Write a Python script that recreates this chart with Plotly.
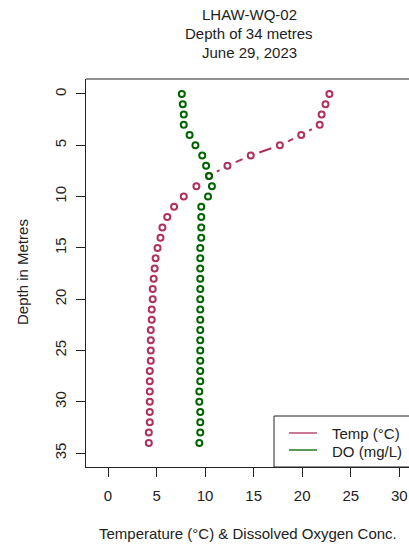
import plotly.graph_objects as go

# Water-quality profile at station LHAW-WQ-02
depth_m = list(range(0, 35))
temp_c = [22.8, 22.4, 22.0, 21.8, 19.9, 17.7, 14.7, 12.3, 10.4, 9.1,
          7.8, 6.8, 6.1, 5.6, 5.4, 5.1, 4.9, 4.8, 4.7, 4.6,
          4.6, 4.5, 4.5, 4.4, 4.4, 4.4, 4.4, 4.3, 4.3, 4.3,
          4.3, 4.3, 4.3, 4.2, 4.2]
do_mgl = [7.6, 7.7, 7.8, 7.8, 8.4, 9.0, 9.7, 10.1, 10.4, 10.7,
          10.3, 9.6, 9.6, 9.6, 9.6, 9.5, 9.5, 9.5, 9.5, 9.5,
          9.5, 9.5, 9.5, 9.5, 9.5, 9.5, 9.5, 9.5, 9.5, 9.4,
          9.4, 9.5, 9.5, 9.5, 9.4]
x_ticks = [0, 5, 10, 15, 20, 25, 30]
y_ticks = [0, 5, 10, 15, 20, 25, 30, 35]
title_lines = ["LHAW-WQ-02", "Depth of 34 metres", "June 29, 2023"]

TEMP_COLOR = "#B03060"
DO_COLOR = "#006400"
INK = "#222222"
FONT = "Liberation Sans, Arial, sans-serif"

W, H = 409, 547
L, R, T, B = 86, 0, 79, 80
pw, ph = W - L - R, H - T - B
X_RANGE = [-2.27, 31.0]
Y_RANGE = [36.35, -1.46]
# pixels per data unit on each axis
SX = pw / (X_RANGE[1] - X_RANGE[0])
SY = ph / abs(Y_RANGE[0] - Y_RANGE[1])
GAP_PX = 9  # points-and-lines style: leave a gap around every point


def px_x(px):
    return (px - L) / pw


def px_y(py):
    return (H - B - py) / ph


def gapped_segments(xs, ys, gap=GAP_PX):
    """Connect consecutive points, trimming each segment back from both points."""
    out_x, out_y = [], []
    for (x0, y0), (x1, y1) in zip(zip(xs, ys), zip(xs[1:], ys[1:])):
        dx, dy = (x1 - x0) * SX, (y1 - y0) * SY
        dist = (dx * dx + dy * dy) ** 0.5
        if dist <= 2 * gap:
            continue
        f = gap / dist
        out_x += [x0 + (x1 - x0) * f, x1 - (x1 - x0) * f, None]
        out_y += [y0 + (y1 - y0) * f, y1 - (y1 - y0) * f, None]
    return out_x, out_y


fig = go.Figure()
for vals, col, name in [(temp_c, TEMP_COLOR, "Temp (°C)"), (do_mgl, DO_COLOR, "DO (mg/L)")]:
    sx, sy = gapped_segments(vals, depth_m)
    fig.add_trace(go.Scatter(
        x=sx, y=sy, mode="lines", showlegend=False, hoverinfo="skip",
        line=dict(color=col, width=2, dash="16px,8px"),
    ))
    fig.add_trace(go.Scatter(
        x=vals, y=depth_m, mode="markers", name=name, showlegend=False,
        marker=dict(symbol="circle-open", size=6, color=col, line=dict(width=2, color=col)),
    ))

axis_common = dict(
    showgrid=False, zeroline=False, showline=True, linecolor=INK, linewidth=1,
    ticks="outside", ticklen=9, tickcolor=INK, tickwidth=1,
    tickfont=dict(family=FONT, size=15, color=INK),
)
fig.update_xaxes(range=X_RANGE, tickmode="array", tickvals=x_ticks,
                 ticklabelstandoff=6, **axis_common)
fig.update_yaxes(range=Y_RANGE, tickmode="array", tickvals=y_ticks,
                 tickangle=-90, ticklabelstandoff=4, **axis_common)

shapes = [
    # top border of the plotting box
    dict(type="line", xref="paper", yref="paper", x0=0, x1=1.05, y0=1, y1=1,
         line=dict(color=INK, width=1)),
    # legend frame in the lower-right corner
    dict(type="rect", xref="paper", yref="paper", x0=px_x(274), x1=1.05,
         y0=0, y1=px_y(416), fillcolor="white", line=dict(color=INK, width=1)),
    dict(type="line", xref="paper", yref="paper", x0=px_x(289), x1=px_x(317),
         y0=px_y(433), y1=px_y(433), line=dict(color=TEMP_COLOR, width=1.3)),
    dict(type="line", xref="paper", yref="paper", x0=px_x(289), x1=px_x(317),
         y0=px_y(450), y1=px_y(450), line=dict(color=DO_COLOR, width=1.3)),
]

ann_font = dict(family=FONT, size=15, color=INK)
annotations = [
    dict(text="Temp (°C)", xref="paper", yref="paper", x=px_x(330), y=px_y(433),
         xanchor="left", yanchor="middle", showarrow=False, font=ann_font),
    dict(text="DO (mg/L)", xref="paper", yref="paper", x=px_x(330), y=px_y(451),
         xanchor="left", yanchor="middle", showarrow=False, font=ann_font),
    dict(text="Temperature (°C) & Dissolved Oxygen Conc.", xref="paper", yref="paper",
         x=px_x(248), y=px_y(533), xanchor="center", yanchor="middle",
         showarrow=False, font=ann_font),
    dict(text="Depth in Metres", xref="paper", yref="paper", x=px_x(22), y=px_y(272),
         xanchor="center", yanchor="middle", textangle=-90,
         showarrow=False, font=ann_font),
]
for line_text, cy in zip(title_lines, [15, 33.5, 52]):
    annotations.append(dict(text=line_text, xref="paper", yref="paper",
                            x=px_x(249), y=px_y(cy), xanchor="center", yanchor="middle",
                            showarrow=False, font=ann_font))

fig.update_layout(
    width=W, height=H,
    margin=dict(l=L, r=R, t=T, b=B, pad=0),
    paper_bgcolor="white", plot_bgcolor="white",
    showlegend=False,
    shapes=shapes, annotations=annotations,
)

fig.write_html("out.html")
